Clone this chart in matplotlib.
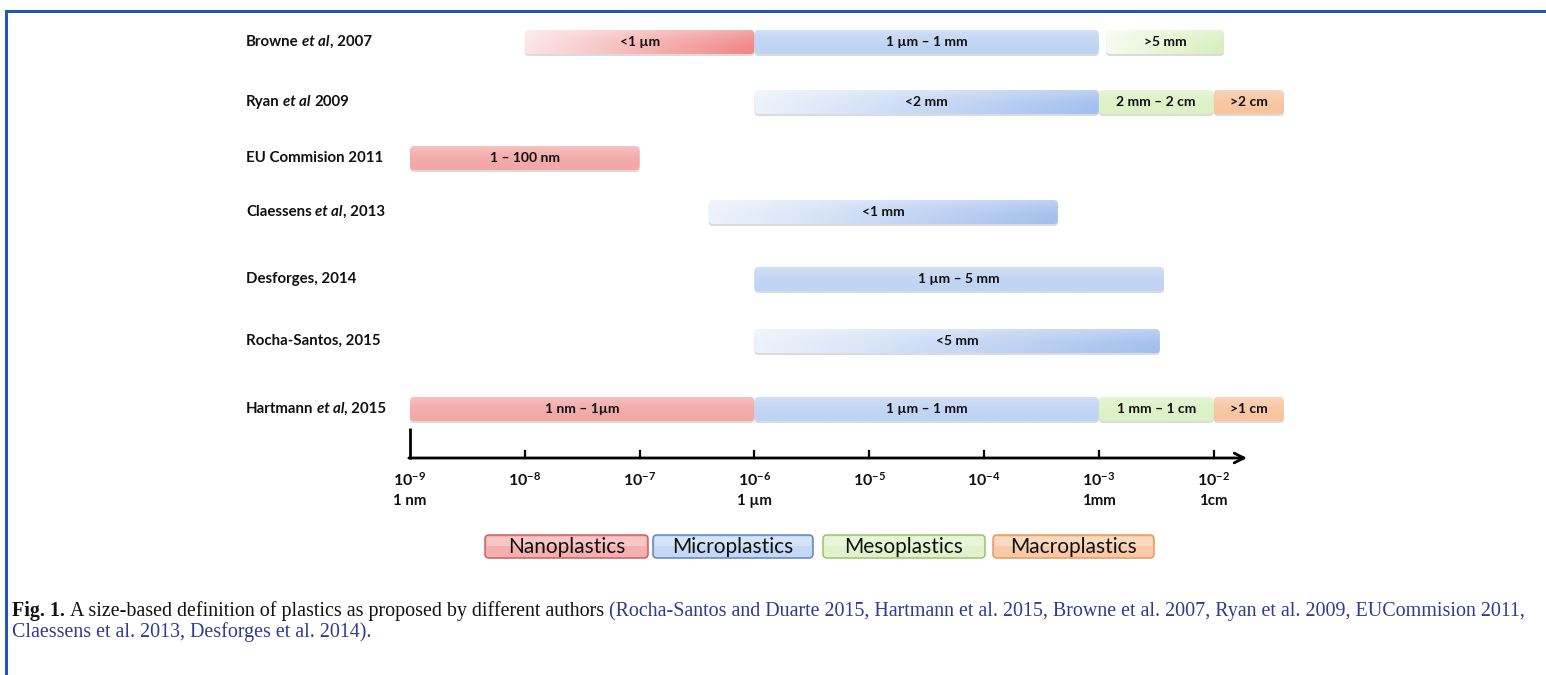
#!/usr/bin/env python3
"""Size-based definitions of plastics (nano / micro / meso / macro) by author."""
import numpy as np
import matplotlib

matplotlib.use("Agg")
import matplotlib.pyplot as plt
import matplotlib.colors as mcolors
from matplotlib.patches import FancyBboxPatch, Rectangle
from matplotlib.transforms import Affine2D

W, H = 1546, 675

# ---- data -------------------------------------------------------------
LABEL_PRE = ["Browne", "Ryan", "EU Commision 2011", "Claessens", "Desforges, 2014",
             "Rocha-Santos, 2015", "Hartmann"]
LABEL_ITALIC = ["et al", "et al", "", "et al", "", "", "et al"]
LABEL_POST = [", 2007", "2009", "", ", 2013", "", "", ", 2015"]

# one entry per coloured segment (sizes in metres)
SEG_ROW = [0, 0, 0, 1, 1, 1, 2, 3, 4, 5, 6, 6, 6, 6]
SEG_START = [1e-8, 1e-6, 1.16e-3, 1e-6, 1e-3, 1e-2, 1e-9, 4.0e-7, 1e-6, 1e-6,
             1e-9, 1e-6, 1e-3, 1e-2]
SEG_END = [1e-6, 1e-3, 1.23e-2, 1e-3, 1e-2, 4.1e-2, 1e-7, 4.4e-4, 3.7e-3, 3.4e-3,
           1e-6, 1e-3, 1e-2, 4.1e-2]
SEG_TEXT = ["<1 µm", "1 µm – 1 mm", ">5 mm", "<2 mm", "2 mm – 2 cm", ">2 cm",
            "1 – 100 nm", "<1 mm", "1 µm – 5 mm", "<5 mm",
            "1 nm – 1µm", "1 µm – 1 mm", "1 mm – 1 cm", ">1 cm"]
SEG_CLASS = ["nano", "micro", "meso", "micro", "meso", "macro", "nano", "micro",
             "micro", "micro", "nano", "micro", "meso", "macro"]
SEG_FADE = [True, False, True, True, False, False, False, True, False, True,
            False, False, False, False]

TICK_EXP = [-9, -8, -7, -6, -5, -4, -3, -2]
UNIT_EXP = [-9, -6, -3, -2]
UNIT_NAMES = ["1 nm", "1 µm", "1mm", "1cm"]

LEGEND_NAMES = ["Nanoplastics", "Microplastics", "Mesoplastics", "Macroplastics"]
LEGEND_CLASS = ["nano", "micro", "meso", "macro"]

CAPTION_1 = "A size-based definition of plastics as proposed by different authors"
CAPTION_REFS_1 = ("(Rocha-Santos and Duarte 2015, Hartmann et al. 2015, Browne et al. 2007, "
                  "Ryan et al. 2009, EUCommision 2011,")
CAPTION_REFS_2 = "Claessens et al. 2013, Desforges et al. 2014)."

# ---- style / layout ---------------------------------------------------
CLASS_COLOR = {"nano": "#f3a7a7", "micro": "#bfd3f3", "meso": "#dcf1c5", "macro": "#f8c49e"}
FADE_RIGHT = {"nano": "#f08787", "micro": "#a3bfee", "meso": "#d8efbd", "macro": "#f6b37f"}
EDGE = {"nano": "#c9605c", "micro": "#5a86c2", "meso": "#9cc46a", "macro": "#e69a5a"}
ROW_Y = [42, 102, 158, 212, 279, 341, 409]
BAR_H = 24
PX_PER_DEC = 114.8
X0_PX = 410          # pixel column of 1e-9
AXIS_Y = 458
LEGEND_BOX = [(485, 648), (653, 813), (823, 985), (993, 1154)]
LEGEND_Y = (535, 558)
FRAME = "#1d5ca8"
LINK = "#303a8e"
INK = "#111111"

plt.rcParams["font.family"] = ["Lato", "DejaVu Sans"]
plt.rcParams["mathtext.fontset"] = "custom"
plt.rcParams["mathtext.rm"] = "Lato"
plt.rcParams["mathtext.bf"] = "Lato:bold"

fig = plt.figure(figsize=(W / 100, H / 100), dpi=100)
fig.patch.set_facecolor("white")
PIX = Affine2D().scale(1, -1).translate(0, H)   # pixel coords, y downwards
renderer = fig.canvas.get_renderer()

ax = fig.add_axes([0, 0, 1, 1])
ax.axis("off")


def mix(c, other, f):
    a = np.array(mcolors.to_rgb(c))
    b = np.array(mcolors.to_rgb(other))
    return a * (1 - f) + b * f


def gradient_bar(x0, x1, yc, c_left, c_right):
    r = 4 / PX_PER_DEC
    shadow = FancyBboxPatch((x0, yc - BAR_H / 2 + 2), x1 - x0, BAR_H,
                            boxstyle=f"round,pad=0,rounding_size={r}",
                            mutation_aspect=PX_PER_DEC, fc="#9a9a9a", ec="none",
                            alpha=0.35, zorder=1)
    ax.add_patch(shadow)
    patch = FancyBboxPatch((x0, yc - BAR_H / 2), x1 - x0, BAR_H,
                           boxstyle=f"round,pad=0,rounding_size={r}",
                           mutation_aspect=PX_PER_DEC, fc="none", ec="none", zorder=2)
    ax.add_patch(patch)
    t = np.linspace(0, 1, 64)[None, :, None]
    row = np.array(c_left)[None, None, :] * (1 - t) + np.array(c_right)[None, None, :] * t
    v = np.linspace(0, 1, 12)[:, None, None]
    img = row + (1 - row) * (0.28 * (1 - v) ** 2)
    im = ax.imshow(np.clip(img, 0, 1), extent=(x0, x1, yc + BAR_H / 2, yc - BAR_H / 2),
                   aspect="auto", interpolation="bilinear", zorder=2)
    im.set_clip_path(patch)


def runs_text(x, y, runs, **kw):
    """Draw consecutive text runs starting at pixel x; returns end x."""
    for s, gap, style in runs:
        x += gap
        t = fig.text(x, y, s, transform=PIX, va="center", ha="left", **kw, **style)
        x += t.get_window_extent(renderer).width
    return x


# ---- bars -------------------------------------------------------------
for i in range(len(SEG_ROW)):
    x0, x1 = np.log10(SEG_START[i]), np.log10(SEG_END[i])
    yc = ROW_Y[SEG_ROW[i]]
    cls = SEG_CLASS[i]
    if SEG_FADE[i]:
        cl, cr = mix(CLASS_COLOR[cls], "white", 0.7), mcolors.to_rgb(FADE_RIGHT[cls])
    else:
        cl = cr = mcolors.to_rgb(CLASS_COLOR[cls])
    gradient_bar(x0, x1, yc, cl, cr)
    ax.text((x0 + x1) / 2, yc, SEG_TEXT[i], ha="center", va="center",
            fontsize=10, fontweight="bold", color=INK, zorder=3)

# ---- row labels -------------------------------------------------------
for i, yc in enumerate(ROW_Y):
    runs = [(LABEL_PRE[i], 0, {"fontweight": "bold"})]
    if LABEL_ITALIC[i]:
        runs.append((LABEL_ITALIC[i], 3.5, {"fontweight": "bold", "fontstyle": "italic"}))
        gap = 0 if LABEL_POST[i].startswith(",") else 3.5
        runs.append((LABEL_POST[i], gap, {"fontweight": "bold"}))
    runs_text(246, yc, runs, fontsize=10.8, color=INK)

# ---- axis -------------------------------------------------------------
ax.plot([-9, -9], [428, AXIS_Y + 1], color="black", lw=2.0, solid_capstyle="butt",
        zorder=3)
ax.annotate("", xy=(-9 + (1247 - X0_PX) / PX_PER_DEC, AXIS_Y), xytext=(-9.01, AXIS_Y),
            arrowprops=dict(arrowstyle="->,head_length=0.7,head_width=0.35",
                            color="black", lw=2.0, shrinkA=0, shrinkB=0), zorder=3)
for e in TICK_EXP[1:]:
    ax.plot([e, e], [AXIS_Y - 7, AXIS_Y], color="black", lw=1.6, zorder=3)
for e in TICK_EXP:
    ax.text(e, 480, rf"$\mathbf{{10^{{{e}}}}}$", ha="center", va="center",
            fontsize=11.5, color=INK)
for e, name in zip(UNIT_EXP, UNIT_NAMES):
    ax.text(e, 501, name, ha="center", va="center", fontsize=10.8,
            fontweight="bold", color=INK)

# ---- legend boxes -----------------------------------------------------
for (bx0, bx1), name, cls in zip(LEGEND_BOX, LEGEND_NAMES, LEGEND_CLASS):
    y0, y1 = LEGEND_Y
    box = FancyBboxPatch((bx0, y0), bx1 - bx0, y1 - y0,
                         boxstyle="round,pad=0,rounding_size=4",
                         fc=mix(CLASS_COLOR[cls], "white", 0.1), ec=EDGE[cls],
                         lw=1.1, transform=PIX, zorder=2)
    fig.patches.append(box)
    fig.patches.append(Rectangle((bx0 + 2, y0 + 1.5), bx1 - bx0 - 4, (y1 - y0) * 0.4,
                                 fc="white", ec="none", alpha=0.3,
                                 transform=PIX, zorder=3))
    fig.text((bx0 + bx1) / 2, (y0 + y1) / 2 + 0.5, name, transform=PIX, ha="center",
             va="center", fontsize=15, color=INK, zorder=4)

# ---- frame ------------------------------------------------------------
fig.patches.append(Rectangle((5, 9.5), W - 5, 3, fc=FRAME, ec="none", transform=PIX))
fig.patches.append(Rectangle((5, 9.5), 3, H - 9.5, fc=FRAME, ec="none", transform=PIX))

# ---- caption ----------------------------------------------------------
cap = {"family": ["Liberation Serif", "DejaVu Serif"]}
probe = fig.text(0, 0, "Fig. 1. " + CAPTION_1 + " " + CAPTION_REFS_1,
                 fontsize=10, **cap)
fs = 10 * (1527 - 12) / probe.get_window_extent(renderer).width
probe.remove()
gap = fs * 100 / 72 * 0.25
runs_text(12, 611, [("Fig. 1.", 0, {"fontweight": "bold", "color": INK}),
                    (CAPTION_1, gap, {"color": INK}),
                    (CAPTION_REFS_1, gap, {"color": LINK})], fontsize=fs, **cap)
runs_text(12, 632, [(CAPTION_REFS_2, 0, {"color": LINK})], fontsize=fs, **cap)

ax.set_xlim(-9 - X0_PX / PX_PER_DEC, -9 + (W - X0_PX) / PX_PER_DEC)
ax.set_ylim(H, 0)

fig.savefig("out.png", dpi=100, facecolor="white")
